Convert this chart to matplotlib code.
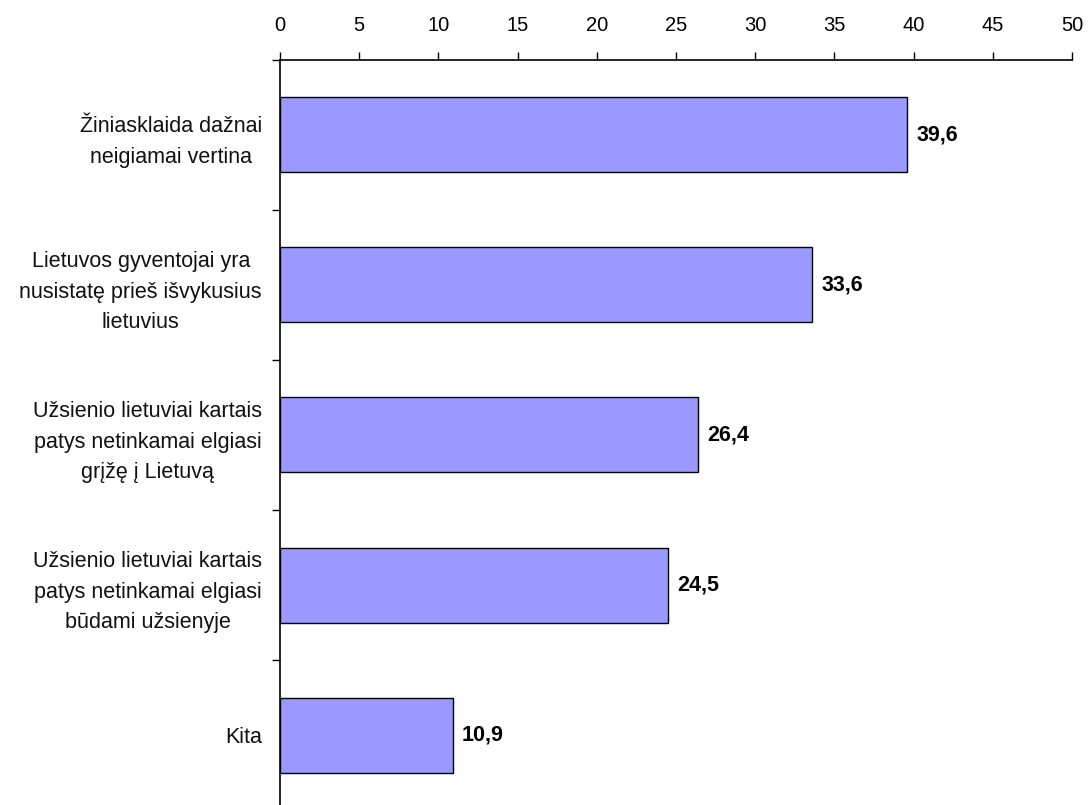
import matplotlib
matplotlib.use("Agg")
import matplotlib.pyplot as plt
import numpy as np

plt.rcParams['font.family'] = ['Liberation Sans', 'DejaVu Sans']

categories = [
    "Žiniasklaida dažnai\nneigiamai vertina",
    "Lietuvos gyventojai yra\nnusistatę prieš išvykusius\nlietuvius",
    "Užsienio lietuviai kartais\npatys netinkamai elgiasi\ngrįžę į Lietuvą",
    "Užsienio lietuviai kartais\npatys netinkamai elgiasi\nbūdami užsienyje",
    "Kita",
]
values = [39.6, 33.6, 26.4, 24.5, 10.9]
value_labels = ["39,6", "33,6", "26,4", "24,5", "10,9"]
xticks = [0, 5, 10, 15, 20, 25, 30, 35, 40, 45, 50]

fig = plt.figure(figsize=(10.92, 8.05), dpi=100)
W, H = 1092, 805
left, right, top, bottom = 280, 1072, 60, 810
ax = fig.add_axes([left / W, (H - bottom) / H, (right - left) / W, (bottom - top) / H])

y = np.arange(len(categories))
ax.barh(y, values, height=0.5, color="#9999FF", edgecolor="black", linewidth=1.0, zorder=2)

for yi, v, lab in zip(y, values, value_labels):
    ax.annotate(lab, xy=(v, yi), xytext=(6.5, 0), textcoords="offset points",
                ha="left", va="center", fontsize=15.5, fontweight="bold", color="black")

ax.set_xlim(0, 50)
ax.set_ylim(len(categories) - 0.5, -0.5)
ax.xaxis.tick_top()
ax.set_xticks(xticks)
ax.set_xticklabels([str(t) for t in xticks], fontsize=14.5)
ax.tick_params(axis="x", direction="out", length=6, width=1, pad=12, colors="black")

ax.set_yticks(y)
ax.set_yticklabels(categories, fontsize=15.5, multialignment="center", linespacing=1.6,
                   color="#111111")
ax.tick_params(axis="y", which="major", length=0, pad=13)
ax.set_yticks(np.arange(-0.5, len(categories) + 0.5, 1.0), minor=True)
ax.tick_params(axis="y", which="minor", direction="out", length=6, width=1)

for s in ["right", "bottom"]:
    ax.spines[s].set_visible(False)
for s in ["top", "left"]:
    ax.spines[s].set_linewidth(1.2)
    ax.spines[s].set_color("black")

fig.savefig("out.png", dpi=100)
